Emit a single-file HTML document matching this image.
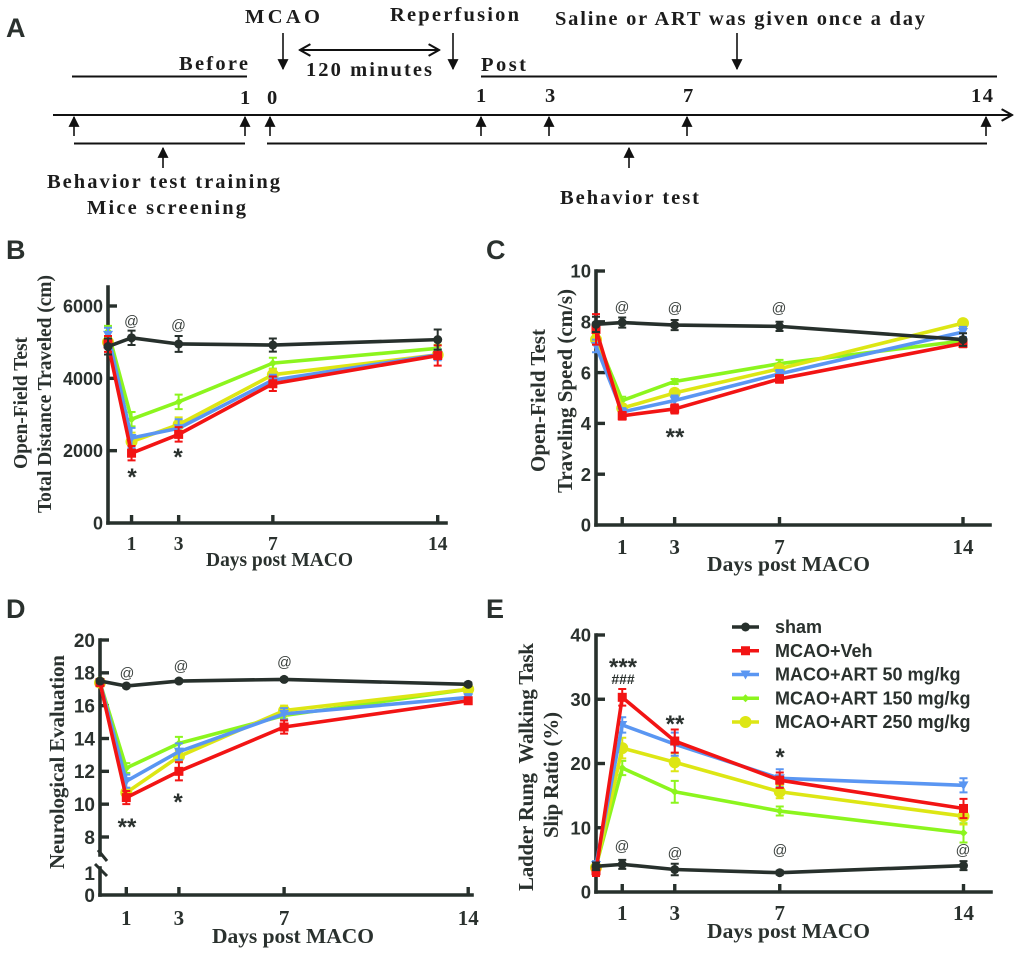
<!DOCTYPE html>
<html lang="en">
<head>
<meta charset="utf-8">
<title>Behavior test timeline and results</title>
<style>
html,body{margin:0;padding:0;background:#fff;width:1020px;height:956px;overflow:hidden}
svg{display:block}
text{fill:#2a312e}
.serif{font-family:"Liberation Serif",serif;font-weight:bold}
.sans{font-family:"Liberation Sans",sans-serif;font-weight:bold}
.at{font-family:"Liberation Sans",sans-serif;font-size:14.5px;text-anchor:middle;fill:#3a403d}
.star{font-family:"Liberation Sans",sans-serif;font-size:24px;font-weight:bold;text-anchor:middle}
.panel{font-family:"Liberation Sans",sans-serif;font-weight:bold;font-size:27px}
.sch{font-family:"Liberation Serif",serif;font-weight:bold;font-size:20.5px;fill:#1c1c1c}
.ttl{font-family:"Liberation Serif",serif;font-weight:bold;font-size:19.5px}
</style>
</head>
<body>
<svg id="figure" xmlns="http://www.w3.org/2000/svg" width="1020" height="956" viewBox="0 0 1020 956">
<defs>
<marker id="ah" viewBox="0 0 10 10" refX="9" refY="5" markerWidth="11" markerHeight="11" markerUnits="userSpaceOnUse" orient="auto"><path d="M0 0L10 5L0 10z" fill="#111"/></marker>
<marker id="oh" viewBox="0 0 10 10" refX="9" refY="5" markerWidth="13" markerHeight="13" markerUnits="userSpaceOnUse" orient="auto-start-reverse"><path d="M1 0.5L9 5L1 9.5" fill="none" stroke="#111" stroke-width="1.6"/></marker>
</defs>

<g id="timeline-panel">
<text class="panel" x="6" y="37">A</text>
<text class="sch" x="245" y="23" textLength="75">MCAO</text>
<text class="sch" x="390" y="21" textLength="129">Reperfusion</text>
<text class="sch" x="555" y="25" textLength="370">Saline or ART was given once a day</text>
<text class="sch" x="179" y="70" textLength="69">Before</text>
<text class="sch" x="306" y="76" textLength="126">120 minutes</text>
<text class="sch" x="481" y="71" textLength="45">Post</text>
<text class="sch" x="240" y="104">1</text>
<text class="sch" x="267" y="104">0</text>
<text class="sch" x="476" y="102">1</text>
<text class="sch" x="545" y="102">3</text>
<text class="sch" x="683" y="102">7</text>
<text class="sch" x="971" y="102" textLength="22">14</text>
<text class="sch" x="47" y="188" textLength="233">Behavior test training</text>
<text class="sch" x="87" y="214" textLength="159">Mice screening</text>
<text class="sch" x="560" y="204" textLength="139">Behavior test</text>
<g stroke="#111" fill="none" stroke-width="2">
<line x1="72" y1="76.5" x2="247" y2="76.5"/>
<line x1="481" y1="76.5" x2="997" y2="76.5"/>
<line x1="53" y1="115" x2="1012" y2="115" marker-end="url(#oh)"/>
<line x1="74" y1="143.5" x2="245" y2="143.5"/>
<line x1="267" y1="143.5" x2="987" y2="143.5"/>
<line x1="300" y1="50" x2="439" y2="50" marker-end="url(#oh)" marker-start="url(#oh)"/>
</g>
<g stroke="#111" stroke-width="1.6" fill="none" marker-end="url(#ah)">
<line x1="283" y1="33" x2="283" y2="69" marker-end="url(#ah)"/>
<line x1="453" y1="33" x2="453" y2="69" marker-end="url(#ah)"/>
<line x1="737" y1="33" x2="737" y2="69" marker-end="url(#ah)"/>
<line x1="74" y1="136" x2="74" y2="117" marker-end="url(#ah)"/>
<line x1="245" y1="136" x2="245" y2="117" marker-end="url(#ah)"/>
<line x1="270" y1="136" x2="270" y2="117" marker-end="url(#ah)"/>
<line x1="481" y1="136" x2="481" y2="117" marker-end="url(#ah)"/>
<line x1="549" y1="136" x2="549" y2="117" marker-end="url(#ah)"/>
<line x1="687" y1="136" x2="687" y2="117" marker-end="url(#ah)"/>
<line x1="986" y1="136" x2="986" y2="117" marker-end="url(#ah)"/>
<line x1="163" y1="168" x2="163" y2="148" marker-end="url(#ah)"/>
<line x1="629" y1="168" x2="629" y2="148" marker-end="url(#ah)"/>
</g>
</g>

<text class="panel" x="6" y="259">B</text>
<text class="panel" x="486" y="259">C</text>
<text class="panel" x="6" y="618">D</text>
<text class="panel" x="486" y="618">E</text>

<g id="titles">
<text class="ttl" transform="translate(27,469) rotate(-90)" textLength="132">Open-Field Test</text>
<text class="ttl" transform="translate(51,513) rotate(-90)" textLength="238">Total Distance Traveled (cm)</text>
<text class="ttl" x="206" y="566" textLength="147">Days post MACO</text>
<text class="ttl" transform="translate(545,472) rotate(-90)" textLength="143" style="font-size:21px">Open-Field Test</text>
<text class="ttl" transform="translate(572,493) rotate(-90)" textLength="204" style="font-size:21px">Traveling Speed (cm/s)</text>
<text class="ttl" x="707" y="571" textLength="163" style="font-size:21.5px">Days post MACO</text>
<text class="ttl" transform="translate(64,869) rotate(-90)" textLength="214" style="font-size:21px">Neurological Evaluation</text>
<text class="ttl" x="212" y="943" textLength="162" style="font-size:21.5px">Days post MACO</text>
<text class="ttl" transform="translate(533,891) rotate(-90)" textLength="248" style="font-size:21px" xml:space="preserve">Ladder Rung  Walking Task</text>
<text class="ttl" transform="translate(558,838) rotate(-90)" textLength="126" style="font-size:21px">Slip Ratio (%)</text>
<text class="ttl" x="707" y="938" textLength="163" style="font-size:21.5px">Days post MACO</text>
</g>

<g id="chart-b"></g>
<g id="chart-c"></g>
<g id="chart-d"></g>
<g id="chart-e"></g>

<g id="annotations">
<text class="at" x="131.5" y="326">@</text>
<text class="at" x="178.5" y="330">@</text>
<text class="star" x="132" y="485">*</text>
<text class="star" x="178" y="465">*</text>
<text class="at" x="622" y="312">@</text>
<text class="at" x="675" y="313">@</text>
<text class="at" x="779" y="313">@</text>
<text class="star" x="675" y="445">**</text>
<text class="at" x="127" y="678">@</text>
<text class="at" x="181" y="671">@</text>
<text class="at" x="284.5" y="667">@</text>
<text class="star" x="127" y="835">**</text>
<text class="star" x="178" y="810">*</text>
<text class="star" x="623" y="675">***</text>
<text class="star" x="623" y="684" style="font-size:14px">###</text>
<text class="star" x="675" y="732">**</text>
<text class="star" x="780" y="765">*</text>
<text class="at" x="622" y="851">@</text>
<text class="at" x="675" y="858">@</text>
<text class="at" x="780" y="855">@</text>
<text class="at" x="963" y="855">@</text>
</g>

<g id="legend"></g>
</svg>

<script>
// Shared categories
const days = [0, 1, 3, 7, 14];
const xTickDays = [1, 3, 7, 14];
const seriesLabels = ['sham', 'MCAO+Veh', 'MACO+ART 50 mg/kg', 'MCAO+ART 150 mg/kg', 'MCAO+ART 250 mg/kg'];

// Panel B: total distance travelled
const bTicks = [0, 2000, 4000, 6000];
const bSham = [4880, 5120, 4950, 4920, 5070];
const bVeh = [4950, 1930, 2450, 3850, 4630];
const bArt50 = [5200, 2350, 2620, 3950, 4650];
const bArt150 = [5300, 2870, 3350, 4420, 4830];
const bArt250 = [5000, 2250, 2720, 4100, 4650];
const bShamErr = [220, 200, 220, 180, 280];
const bVehErr = [220, 200, 200, 200, 280];
const bArt50Err = [200, 280, 250, 150, 150];
const bArt150Err = [150, 200, 200, 150, 100];
const bArt250Err = [150, 250, 200, 150, 100];

// Panel C: travelling speed
const cTicks = [0, 2, 4, 6, 8, 10];
const cSham = [7.9, 7.97, 7.87, 7.82, 7.3];
const cVeh = [7.7, 4.3, 4.57, 5.75, 7.15];
const cArt50 = [7.05, 4.45, 4.9, 5.95, 7.6];
const cArt150 = [7.4, 4.9, 5.65, 6.35, 7.25];
const cArt250 = [7.3, 4.6, 5.2, 6.15, 7.95];
const cShamErr = [0.3, 0.2, 0.2, 0.18, 0.25];
const cVehErr = [0.6, 0.15, 0.18, 0.15, 0.15];
const cArt50Err = [0.25, 0.15, 0.2, 0.15, 0.2];
const cArt150Err = [0.2, 0.15, 0.1, 0.15, 0.1];
const cArt250Err = [0.2, 0.15, 0.15, 0.15, 0.1];

// Panel D: neurological evaluation (axis broken below 8)
const dTicks = [8, 10, 12, 14, 16, 18, 20];
const dLowTicks = [0, 1];
const dSham = [17.5, 17.2, 17.5, 17.6, 17.3];
const dVeh = [17.4, 10.4, 12, 14.7, 16.3];
const dArt50 = [17.4, 11.4, 13.2, 15.5, 16.5];
const dArt150 = [17.4, 12.2, 13.7, 15.4, 17];
const dArt250 = [17.4, 10.7, 12.9, 15.7, 17];
const dShamErr = [0.1, 0.1, 0.1, 0.1, 0.1];
const dVehErr = [0.2, 0.4, 0.55, 0.4, 0.2];
const dArt50Err = [0.1, 0.4, 0.5, 0.35, 0.2];
const dArt150Err = [0.1, 0.3, 0.4, 0.2, 0.15];
const dArt250Err = [0.1, 0.3, 0.3, 0.3, 0.15];

// Panel E: slip ratio
const eTicks = [0, 10, 20, 30, 40];
const eSham = [4, 4.3, 3.5, 3, 4.1];
const eVeh = [3.3, 30.3, 23.5, 17.4, 13];
const eArt50 = [4.2, 26, 23, 17.7, 16.6];
const eArt150 = [4, 19.3, 15.6, 12.6, 9.2];
const eArt250 = [3.8, 22.4, 20.2, 15.6, 11.8];
const eShamErr = [0.6, 0.7, 0.9, 0.3, 0.7];
const eVehErr = [0.8, 1.3, 1.8, 1.2, 1.5];
const eArt50Err = [0.6, 1.2, 1.8, 1.4, 1.1];
const eArt150Err = [0.5, 1.1, 1.7, 0.7, 1.5];
const eArt250Err = [0.5, 1.6, 1.4, 1, 1.3];

const NS = 'http://www.w3.org/2000/svg';
const AXIS_COLOR = '#27302c';
const seriesColors = ['#27302c', '#f21414', '#5a96f2', '#8cf51e', '#dde614'];
const seriesKeys = ['sham', 'veh', 'art-50', 'art-150', 'art-250'];
// Painted back to front: green, yellow, blue, red, sham
const paintOrder = [3, 4, 2, 1, 0];

function make(tag, attrs, parent, text) {
  const node = document.createElementNS(NS, tag);
  for (const k in attrs) node.setAttribute(k, attrs[k]);
  if (text !== undefined) node.textContent = text;
  parent.appendChild(node);
  return node;
}

function linearScale(d0, r0, d1, r1) {
  return v => r0 + (v - d0) * (r1 - r0) / (d1 - d0);
}

function drawMarker(kind, x, y, color, parent) {
  let m;
  if (kind === 0) m = make('circle', { cx: x, cy: y, r: 4.5, fill: color }, parent);
  if (kind === 1) m = make('rect', { x: x - 4.5, y: y - 4.5, width: 9, height: 9, fill: color }, parent);
  if (kind === 2) m = make('polygon', { points: (x - 5) + ',' + (y - 4) + ' ' + (x + 5) + ',' + (y - 4) + ' ' + x + ',' + (y + 5), fill: color }, parent);
  if (kind === 3) m = make('polygon', { points: (x - 4) + ',' + y + ' ' + x + ',' + (y - 4) + ' ' + (x + 4) + ',' + y + ' ' + x + ',' + (y + 4), fill: color }, parent);
  if (kind === 4) m = make('circle', { cx: x, cy: y, r: 6, fill: color }, parent);
  return m;
}

function drawSeries(g, panelKey, idx, values, errors, xs, ys) {
  const color = seriesColors[idx];
  const group = make('g', {}, g);
  
  
  days.forEach((d, i) => {
    const x = xs(d);
    const top = ys(values[i] + errors[i]);
    const bottom = ys(values[i] - errors[i]);
    const bar = make('path', {
      d: 'M' + (x - 4) + ' ' + top + 'H' + (x + 4) + 'M' + x + ' ' + top + 'V' + bottom + 'M' + (x - 4) + ' ' + bottom + 'H' + (x + 4),
      stroke: color, 'stroke-width': 2, fill: 'none'
    }, group);
    
    
  });
  const line = make('polyline', {
    points: days.map((d, i) => xs(d) + ',' + ys(values[i])).join(' '),
    fill: 'none', stroke: color, 'stroke-width': 3.6, 'stroke-linejoin': 'round'
  }, group);
  
  
  days.forEach((d, i) => {
    const mark = drawMarker(idx, xs(d), ys(values[i]), color, group);
    
    
  });
}

function drawYTick(g, panelKey, label, y, x0, fontSize, withMark) {
  if (withMark) {
    const t = make('line', { x1: x0, x2: x0 + 9, y1: y, y2: y, stroke: AXIS_COLOR, 'stroke-width': 3.4 }, g);
    
    
  }
  const lab = make('text', { x: x0 - 5, y: y + fontSize * 0.36, 'text-anchor': 'end', class: 'sans', 'font-size': fontSize }, g, String(label));
  
  
}

function drawXAxis(g, panelKey, xs, y0, labelY, fontSize) {
  xTickDays.forEach(d => {
    const t = make('line', { x1: xs(d), x2: xs(d), y1: y0, y2: y0 - 8, stroke: AXIS_COLOR, 'stroke-width': 3.4 }, g);
    
    
    const lab = make('text', { x: xs(d), y: labelY, 'text-anchor': 'middle', class: 'serif', 'font-size': fontSize }, g, String(d));
    
    
  });
}

function drawAxisLine(g, panelKey, name, x1, y1, x2, y2) {
  const a = make('line', { x1: x1, y1: y1, x2: x2, y2: y2, stroke: AXIS_COLOR, 'stroke-width': 3.6, 'stroke-linecap': 'square' }, g);
  
  
}

function drawAllSeries(g, panelKey, seriesSet, errorSet, xs, ys) {
  paintOrder.forEach(idx => drawSeries(g, panelKey, idx, seriesSet[idx], errorSet[idx], xs, ys));
}

// Panel B
(function () {
  const g = document.getElementById('chart-b');
  const xs = linearScale(0, 108, 14, 437.7);
  const ys = linearScale(0, 523, 6000, 306);
  drawAxisLine(g, 'chart-b', 'y-axis', 108, 287, 108, 523);
  drawAxisLine(g, 'chart-b', 'x-axis', 108, 523, 446, 523);
  bTicks.forEach(t => drawYTick(g, 'chart-b', t, ys(t), 108, 18, t !== 0));
  drawXAxis(g, 'chart-b', xs, 523, 550, 19.5);
  drawAllSeries(g, 'chart-b', [bSham, bVeh, bArt50, bArt150, bArt250], [bShamErr, bVehErr, bArt50Err, bArt150Err, bArt250Err], xs, ys);
})();

// Panel C
(function () {
  const g = document.getElementById('chart-c');
  const xs = linearScale(0, 596, 14, 963);
  const ys = linearScale(0, 525, 10, 271);
  drawAxisLine(g, 'chart-c', 'y-axis', 596, 271, 596, 525);
  drawAxisLine(g, 'chart-c', 'x-axis', 596, 525, 990, 525);
  cTicks.forEach(t => drawYTick(g, 'chart-c', t, ys(t), 596, 18.5, t !== 0));
  drawXAxis(g, 'chart-c', xs, 525, 554, 21);
  drawAllSeries(g, 'chart-c', [cSham, cVeh, cArt50, cArt150, cArt250], [cShamErr, cVehErr, cArt50Err, cArt150Err, cArt250Err], xs, ys);
})();

// Panel D
(function () {
  const g = document.getElementById('chart-d');
  const xs = linearScale(0, 100, 14, 468.2);
  const ys = linearScale(8, 837, 20, 640);
  const ysLow = linearScale(0, 895, 1, 873);
  drawAxisLine(g, 'chart-d', 'y-axis-upper', 100, 640, 100, 855);
  drawAxisLine(g, 'chart-d', 'y-axis-lower', 100, 868, 100, 895);
  drawAxisLine(g, 'chart-d', 'x-axis', 100, 895, 472, 895);
  const slashTop = make('line', { x1: 98, y1: 850, x2: 107, y2: 861, stroke: AXIS_COLOR, 'stroke-width': 3 }, g);
  
  
  const slashLow = make('line', { x1: 95, y1: 864, x2: 107, y2: 876, stroke: AXIS_COLOR, 'stroke-width': 3 }, g);
  
  
  dTicks.forEach(t => drawYTick(g, 'chart-d', t, ys(t), 100, 19, true));
  dLowTicks.forEach(t => drawYTick(g, 'chart-d', t, ysLow(t), 100, 19, false));
  drawXAxis(g, 'chart-d', xs, 895, 925, 21);
  drawAllSeries(g, 'chart-d', [dSham, dVeh, dArt50, dArt150, dArt250], [dShamErr, dVehErr, dArt50Err, dArt150Err, dArt250Err], xs, ys);
})();

// Panel E
(function () {
  const g = document.getElementById('chart-e');
  const xs = linearScale(0, 596, 14, 963.5);
  const ys = linearScale(0, 892, 40, 635);
  drawAxisLine(g, 'chart-e', 'y-axis', 596, 635, 596, 892);
  drawAxisLine(g, 'chart-e', 'x-axis', 596, 892, 991, 892);
  eTicks.forEach(t => drawYTick(g, 'chart-e', t, ys(t), 596, 18.5, t !== 0));
  drawXAxis(g, 'chart-e', xs, 892, 920, 21);
  drawAllSeries(g, 'chart-e', [eSham, eVeh, eArt50, eArt150, eArt250], [eShamErr, eVehErr, eArt50Err, eArt150Err, eArt250Err], xs, ys);
})();

// Legend
(function () {
  const g = document.getElementById('legend');
  const rowY = linearScale(0, 627, 4, 722);
  seriesLabels.forEach((label, i) => {
    const y = rowY(i);
    const entry = make('g', {}, g);
    
    
    const swatch = make('line', { x1: 732, x2: 759, y1: y, y2: y, stroke: seriesColors[i], 'stroke-width': 3.6 }, entry);
    
    
    const mark = drawMarker(i, 745.5, y, seriesColors[i], entry);
    
    
    const text = make('text', { x: 775, y: y + 6, class: 'sans', 'font-size': 18 }, entry, label);
    
    
  });
})();
</script>
</body>
</html>
